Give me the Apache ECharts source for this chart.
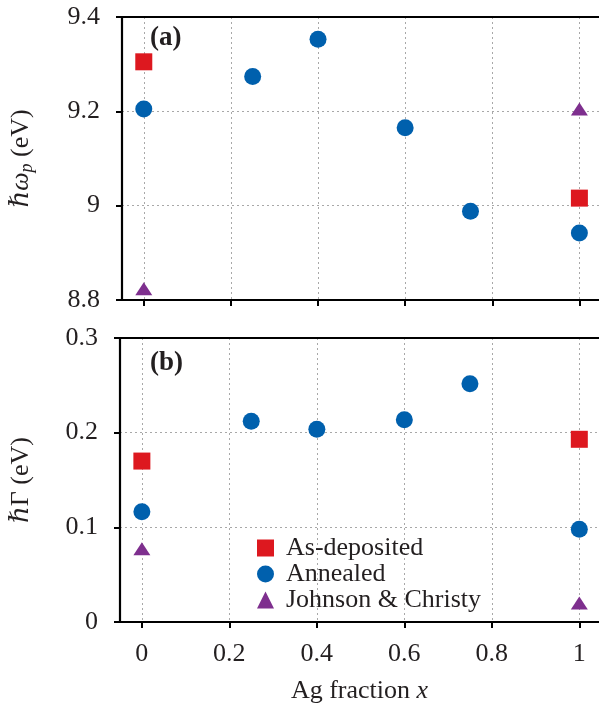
<!DOCTYPE html>
<html>
<head>
<meta charset="utf-8">
<script src="https://cdn.jsdelivr.net/npm/echarts@6/dist/echarts.min.js"></script>
<style>html,body{margin:0;padding:0;background:#fff}#c{width:599px;height:709px}</style>
</head>
<body>
<div id="c"></div>
<script>
// ---- data ----
const xTicks = [0, 0.2, 0.4, 0.6, 0.8, 1];
const seriesNames = ['As-deposited', 'Annealed', 'Johnson & Christy'];

// panel (a): plasma energy ħω_p (eV)
const aAsDepX = [0, 1];
const aAsDepY = [9.305, 9.016];
const aAnnX = [0, 0.25, 0.4, 0.6, 0.75, 1];
const aAnnY = [9.205, 9.274, 9.353, 9.165, 8.988, 8.942];
const aJCX = [0, 1];
const aJCY = [8.824, 9.205];

// panel (b): damping ħΓ (eV)
const bAsDepX = [0, 1];
const bAsDepY = [0.170, 0.193];
const bAnnX = [0, 0.25, 0.4, 0.6, 0.75, 1];
const bAnnY = [0.1165, 0.212, 0.2037, 0.2136, 0.2517, 0.098];
const bJCX = [0, 1];
const bJCY = [0.0775, 0.020];

const zip = (xs, ys) => xs.map((x, i) => [x, ys[i]]);

const FONT = "'Liberation Serif','DejaVu Serif',serif";
const FS = 26;
const TXT = '#231f20';
const RED = '#dd181f', BLUE = '#0060ad', PURPLE = '#7e2f8e';

const gridLine = {show: true, lineStyle: {color: '#a8a8a8', type: [2, 3], width: 1}};
const axisLine = {show: true, onZero: false, lineStyle: {color: '#000', width: 2.2}};

function bottomX(gi, labels) {
  return {
    type: 'value', gridIndex: gi, position: 'bottom',
    min: -0.05, max: 1.045,
    axisLine: axisLine,
    axisTick: {show: true, inside: false, length: 6, customValues: xTicks, lineStyle: {color: '#000', width: 2}},
    axisLabel: {show: labels, customValues: xTicks, margin: 19, fontFamily: FONT, fontSize: FS, color: TXT},
    splitLine: gridLine,
    name: labels ? 'Ag fraction {i|x}' : '',
    nameLocation: 'middle', nameGap: 56,
    nameTextStyle: {fontFamily: FONT, fontSize: FS, color: TXT,
      rich: {i: {fontFamily: FONT, fontStyle: 'italic', fontSize: FS, color: TXT}}}
  };
}
function topX(gi) {
  return {
    type: 'value', gridIndex: gi, position: 'top', min: -0.05, max: 1.045,
    axisLine: axisLine, axisTick: {show: false}, axisLabel: {show: false}, splitLine: {show: false}
  };
}
function leftY(gi, min, max, interval, name, rich) {
  return {
    type: 'value', gridIndex: gi, min: min, max: max, interval: interval,
    axisLine: axisLine,
    axisTick: {show: true, inside: false, length: 6, lineStyle: {color: '#000', width: 2}},
    axisLabel: {margin: 22, fontFamily: FONT, fontSize: FS, color: TXT},
    splitLine: gridLine,
    name: name, nameLocation: 'middle', nameGap: 86, nameRotate: 90,
    nameTextStyle: {fontFamily: FONT, fontSize: FS, color: TXT, rich: rich}
  };
}

const richA = {
  i: {fontFamily: FONT, fontStyle: 'italic', fontSize: FS, color: TXT},
  s: {fontFamily: FONT, fontStyle: 'italic', fontSize: 18, color: TXT, padding: [12, 0, 0, 0]},
  n: {fontFamily: FONT, fontSize: FS, color: TXT}
};
const richB = {
  i: {fontFamily: FONT, fontStyle: 'italic', fontSize: FS, color: TXT},
  n: {fontFamily: FONT, fontSize: FS, color: TXT}
};

function sc(name, xi, yi, data, symbol, size, color) {
  return {
    type: 'scatter', name: name, xAxisIndex: xi, yAxisIndex: yi,
    data: data, symbol: symbol, symbolSize: size,
    itemStyle: {color: color, opacity: 1}, z: 5
  };
}

const chart = echarts.init(document.getElementById('c'), null, {renderer: 'canvas'});
chart.setOption({
  animation: false,
  backgroundColor: '#fff',
  grid: [
    {left: 120, right: 0, top: 17, height: 283},
    {left: 120, right: 0, top: 338, height: 284}
  ],
  xAxis: [bottomX(0, false), bottomX(1, true), topX(0), topX(1)],
  yAxis: [
    leftY(0, 8.8, 9.4, 0.2, '{i|ℏω}{s|p}{n| (eV)}', richA),
    leftY(1, 0, 0.3, 0.1, '{i|ℏ}{n|Γ (eV)}', richB)
  ],
  legend: {
    orient: 'vertical', left: 252, top: 530,
    itemWidth: 17, itemHeight: 17, itemGap: 0,
    textStyle: {fontFamily: FONT, fontSize: FS, color: TXT, padding: [0, 0, 0, 7]},
    data: [
      {name: seriesNames[0], icon: 'rect'},
      {name: seriesNames[1], icon: 'circle'},
      {name: seriesNames[2], icon: 'triangle'}
    ]
  },
  graphic: [
    {type: 'text', left: 150, top: 25, style: {text: '(a)', font: "bold 27px 'Liberation Serif'", fill: TXT}},
    {type: 'text', left: 150, top: 350, style: {text: '(b)', font: "bold 27px 'Liberation Serif'", fill: TXT}}
  ],
  series: [
    sc(seriesNames[0], 0, 0, zip(aAsDepX, aAsDepY), 'rect', 17, RED),
    sc(seriesNames[1], 0, 0, zip(aAnnX, aAnnY), 'circle', 17, BLUE),
    sc(seriesNames[2], 0, 0, zip(aJCX, aJCY), 'triangle', [17, 13], PURPLE),
    sc(seriesNames[0], 1, 1, zip(bAsDepX, bAsDepY), 'rect', 17, RED),
    sc(seriesNames[1], 1, 1, zip(bAnnX, bAnnY), 'circle', 17, BLUE),
    sc(seriesNames[2], 1, 1, zip(bJCX, bJCY), 'triangle', [17, 13], PURPLE)
  ]
});
</script>
</body>
</html>
